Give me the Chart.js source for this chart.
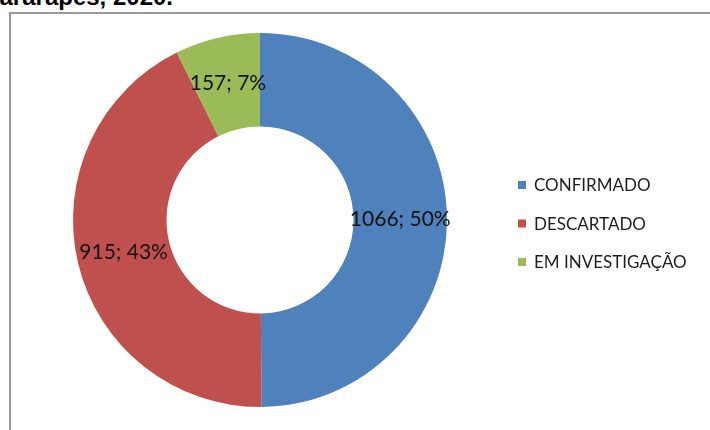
<!DOCTYPE html>
<html>
<head>
<meta charset="utf-8">
<script src="https://cdn.jsdelivr.net/npm/chart.js@4.4.1/dist/chart.umd.min.js"></script>
<style>
  html, body { margin: 0; padding: 0; background: #fff; overflow: hidden; }
  #wrap { position: relative; width: 710px; height: 430px; overflow: hidden; }
  #title {
    position: absolute; right: 537px; top: -17px; white-space: nowrap;
    font: bold 24px "Liberation Sans", Arial, sans-serif; color: #000; line-height: 28px;
  }
  #frame {
    position: absolute; left: 9px; top: 12px; width: 800px; height: 500px;
    border: 2px solid #999; box-sizing: border-box;
  }
  #myChart { position: absolute; left: 0; top: 0; }
</style>
</head>
<body>
<div id="wrap">
  <div id="title">Guararapes, 2020.</div>
  <div id="frame"></div>
  <canvas id="myChart" width="710" height="430"></canvas>
</div>
<script>
var categories = ['CONFIRMADO', 'DESCARTADO', 'EM INVESTIGAÇÃO'];
var casos = [1066, 915, 157];
var percentuais = [50, 43, 7];
var cores = ['#4F81BD', '#C0504D', '#9BBB59'];

// rótulos "valor; %" no meio de cada fatia
var rotulos = {
  id: 'rotulos',
  afterDatasetsDraw: function (chart) {
    var c = chart.ctx;
    var meta = chart.getDatasetMeta(0);
    c.save();
    c.font = '21px Lato, "Open Sans", sans-serif';
    c.fillStyle = '#111';
    c.textAlign = 'center';
    c.textBaseline = 'middle';
    meta.data.forEach(function (arc, i) {
      var p = arc.getCenterPoint();
      c.fillText(casos[i] + '; ' + percentuais[i] + '%', p.x, p.y);
    });
    c.restore();
  }
};

// legenda à direita, no estilo do Excel
var legenda = {
  id: 'legenda',
  afterDraw: function (chart) {
    var c = chart.ctx;
    var x = 518, y0 = 186, passo = 38.5;
    c.save();
    c.font = '17px Lato, "Open Sans", sans-serif';
    c.textBaseline = 'middle';
    chart.data.labels.forEach(function (lbl, i) {
      var y = y0 + i * passo;
      c.fillStyle = chart.data.datasets[0].backgroundColor[i];
      c.fillRect(x, y - 5, 8, 8);
      c.fillStyle = '#1e1e1e';
      c.fillText(lbl, x + 16, y);
    });
    c.restore();
  }
};

var ctx = document.getElementById('myChart').getContext('2d');
var myChart = new Chart(ctx, {
  type: 'doughnut',
  data: {
    labels: categories,
    datasets: [{
      data: casos,
      backgroundColor: cores,
      borderWidth: 0
    }]
  },
  options: {
    responsive: false,
    animation: false,
    cutout: '50%',
    layout: { padding: { top: 33, bottom: 23, left: 73, right: 263 } },
    plugins: {
      legend: { display: false },
      tooltip: { enabled: false }
    }
  },
  plugins: [rotulos, legenda]
});
</script>
</body>
</html>
